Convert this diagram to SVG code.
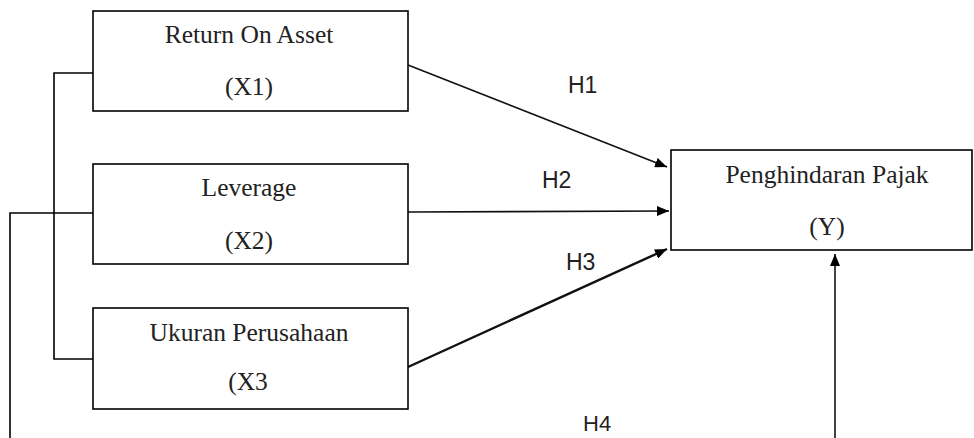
<svg xmlns="http://www.w3.org/2000/svg" width="974" height="438" viewBox="0 0 974 438">
<style>
.box{fill:#fff;stroke:#000;stroke-width:1.6}
.t{font-family:"Liberation Serif","Times New Roman",serif;font-size:25.5px;fill:#222;text-anchor:middle}
.h{font-family:"Liberation Sans",Arial,sans-serif;font-size:23px;fill:#222}
.ln{fill:none;stroke:#000;stroke-width:1.6}
.ar{fill:none;stroke:#111;stroke-width:1.6;marker-end:url(#ah)}
</style>
<defs>
<marker id="ah" viewBox="0 0 12 10" refX="12" refY="5" markerWidth="12" markerHeight="10" markerUnits="userSpaceOnUse" orient="auto">
<path d="M0,0 L12,5 L0,10 Z" fill="#000"/>
</marker>
</defs>
<rect width="974" height="438" fill="#fff"/>
<g id="connectors">
<polyline class="ln" points="93,73 54,73 54,359 93,359"/>
<polyline class="ln" points="93,213 10,213 10,438"/>
<line class="ar" x1="408" y1="65" x2="667" y2="167"/>
<line class="ar" x1="408" y1="212" x2="669" y2="211"/>
<line class="ar" x1="408" y1="367" x2="667" y2="249" style="stroke-width:2.4"/>
<line class="ar" x1="835" y1="438" x2="835" y2="254"/>
<text class="h" x="568" y="93">H1</text>
<text class="h" x="542" y="188">H2</text>
<text class="h" x="566" y="270">H3</text>
<text class="h" x="583" y="431" style="font-size:22px">H4</text>
</g>
<g id="x1">
<rect class="box" x="93" y="11" width="315" height="100"/>
<text class="t" x="249" y="43">Return On Asset</text>
<text class="t" x="249" y="95">(X1)</text>
</g>
<g id="x2">
<rect class="box" x="93" y="164" width="315" height="100"/>
<text class="t" x="249" y="196">Leverage</text>
<text class="t" x="249" y="249">(X2)</text>
</g>
<g id="x3">
<rect class="box" x="93" y="308" width="315" height="101"/>
<text class="t" x="249" y="341">Ukuran Perusahaan</text>
<text class="t" x="248" y="390">(X3</text>
</g>
<g id="y">
<rect class="box" x="671" y="150" width="301" height="100"/>
<text class="t" x="827" y="183">Penghindaran Pajak</text>
<text class="t" x="827" y="235">(Y)</text>
</g>
</svg>
